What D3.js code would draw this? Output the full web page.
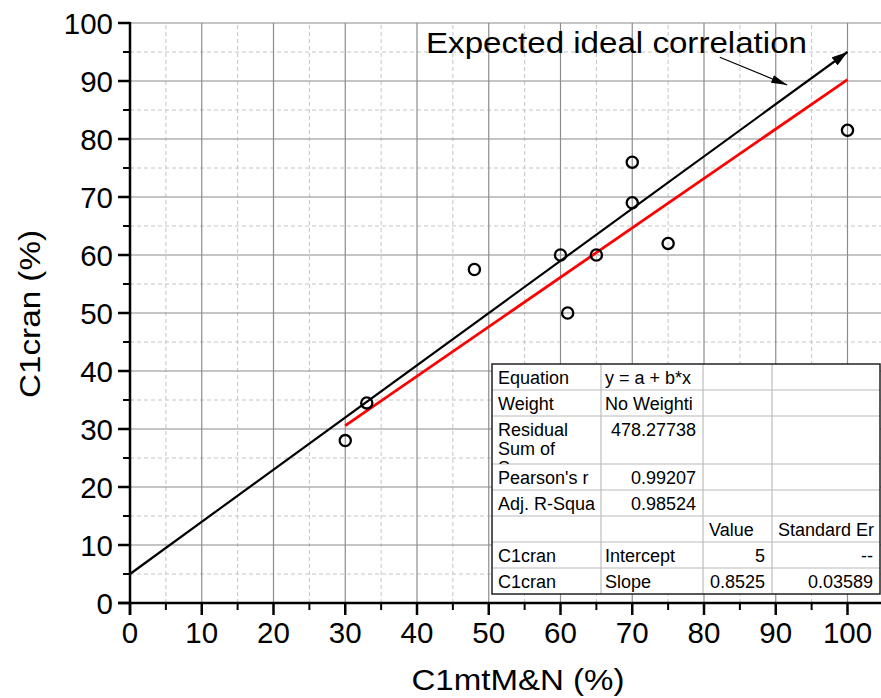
<!DOCTYPE html>
<html lang="en">
<head>
<meta charset="UTF-8">
<title>C1cran vs C1mtM&N</title>
<script src="https://d3js.org/d3.v7.min.js"></script>
<style>
  body { margin: 0; background: #fff; }
  text { font-family: "Liberation Sans", Arial, sans-serif; fill: #000; }
</style>
</head>
<body>
<svg id="chart" width="881" height="698"></svg>
<script>
    // measured points
    const xVals = [30, 33, 48, 60, 61, 65, 70, 70, 75, 100];
    const yVals = [28, 34.5, 57.5, 60, 50, 60, 76, 69, 62, 81.5];

    // linear fit (from the table) and the reference line
    const fitIntercept = 5, fitSlope = 0.8525;
    const fitRange = [30, 100];
    const idealLine = [[0, 5], [100, 95]];

    const majorTicks = [0, 10, 20, 30, 40, 50, 60, 70, 80, 90, 100];
    const minorTicks = [5, 15, 25, 35, 45, 55, 65, 75, 85, 95];

    const xTitle = "C1mtM&N (%)";
    const yTitle = "C1cran (%)";
    const noteText = "Expected ideal correlation";
    const notePointer = [[82.2, 94.1], [91.6, 89.3]];

    const tableRows = [
        ["Equation", "y = a + b*x", "", ""],
        ["Weight", "No Weighti", "", ""],
        ["Residual\nSum of\nSquares", "478.27738", "", ""],
        ["Pearson's r", "0.99207", "", ""],
        ["Adj. R-Squa", "0.98524", "", ""],
        ["", "", "Value", "Standard Er"],
        ["C1cran", "Intercept", "5", "--"],
        ["C1cran", "Slope", "0.8525", "0.03589"]
    ];

    const svg = d3.select("#chart"),
          width = +svg.attr("width"),
          height = +svg.attr("height");

    const x = d3.scaleLinear().domain([0, 100]).range([130, 847.5]);
    const y = d3.scaleLinear().domain([0, 100]).range([603, 23]);
    const xEnd = width;

    const defs = svg.append("defs");
    defs.append("marker")
        .attr("id", "bigArrow")
        .attr("viewBox", "0 0 16 10")
        .attr("refX", 16).attr("refY", 5)
        .attr("markerWidth", 16).attr("markerHeight", 10)
        .attr("markerUnits", "userSpaceOnUse")
        .attr("orient", "auto")
        .append("path").attr("d", "M0,0 L16,5 L0,10 Z").attr("fill", "#000");
    defs.append("marker")
        .attr("id", "smallArrow")
        .attr("viewBox", "0 0 16 8")
        .attr("refX", 16).attr("refY", 4)
        .attr("markerWidth", 16).attr("markerHeight", 8)
        .attr("markerUnits", "userSpaceOnUse")
        .attr("orient", "auto")
        .append("path").attr("d", "M0,0 L16,4 L0,8 Z").attr("fill", "#000");

    // grid
    const grid = svg.append("g");
    grid.selectAll(".vminor").data(minorTicks).join("line")
        .attr("x1", d => x(d)).attr("x2", d => x(d))
        .attr("y1", y(0)).attr("y2", y(100))
        .attr("stroke", "#c4c4c4").attr("stroke-dasharray", "4,3");
    grid.selectAll(".hminor").data(minorTicks).join("line")
        .attr("x1", x(0)).attr("x2", xEnd)
        .attr("y1", d => y(d)).attr("y2", d => y(d))
        .attr("stroke", "#c4c4c4").attr("stroke-dasharray", "4,3");
    grid.selectAll(".vmajor").data(majorTicks.slice(1)).join("line")
        .attr("x1", d => x(d)).attr("x2", d => x(d))
        .attr("y1", y(0)).attr("y2", y(100))
        .attr("stroke", "#8c8c8c").attr("stroke-width", 1.2);
    grid.selectAll(".hmajor").data(majorTicks.slice(1)).join("line")
        .attr("x1", x(0)).attr("x2", xEnd)
        .attr("y1", d => y(d)).attr("y2", d => y(d))
        .attr("stroke", "#8c8c8c").attr("stroke-width", 1.2);

    // lines
    svg.append("line")
        .attr("x1", x(idealLine[0][0])).attr("y1", y(idealLine[0][1]))
        .attr("x2", x(idealLine[1][0])).attr("y2", y(idealLine[1][1]))
        .attr("stroke", "#000").attr("stroke-width", 2.2)
        .attr("marker-end", "url(#bigArrow)");

    svg.append("line")
        .attr("x1", x(fitRange[0])).attr("y1", y(fitIntercept + fitSlope * fitRange[0]))
        .attr("x2", x(fitRange[1])).attr("y2", y(fitIntercept + fitSlope * fitRange[1]))
        .attr("stroke", "#ff0000").attr("stroke-width", 2.8);

    // points
    svg.append("g").selectAll("circle").data(xVals.map((v, i) => [v, yVals[i]])).join("circle")
        .attr("cx", d => x(d[0])).attr("cy", d => y(d[1]))
        .attr("r", 5.6)
        .attr("fill", "none").attr("stroke", "#000").attr("stroke-width", 2.3);

    // annotation
    svg.append("text")
        .attr("x", 426).attr("y", 53)
        .attr("font-size", 29)
        .attr("textLength", 381).attr("lengthAdjust", "spacingAndGlyphs")
        .text(noteText);
    svg.append("line")
        .attr("x1", x(notePointer[0][0])).attr("y1", y(notePointer[0][1]))
        .attr("x2", x(notePointer[1][0])).attr("y2", y(notePointer[1][1]))
        .attr("stroke", "#000").attr("stroke-width", 1.2)
        .attr("marker-end", "url(#smallArrow)");

    // stats table
    const colX = [492, 601, 703, 772, 880];
    const rowH = tableRows.map(r => r[0].includes("\n") ? 48 : 26);
    const tableTop = 364;
    const rowY = [tableTop];
    rowH.forEach(h => rowY.push(rowY[rowY.length - 1] + h));
    const isNum = s => /^[-\d.]+$/.test(s);

    const tbl = svg.append("g");
    tbl.append("rect")
        .attr("x", colX[0]).attr("y", tableTop)
        .attr("width", colX[4] - colX[0]).attr("height", rowY[rowY.length - 1] - tableTop)
        .attr("fill", "#fff");
    tbl.selectAll(".rowline").data(rowY.slice(1, -1)).join("line")
        .attr("x1", colX[0]).attr("x2", colX[4])
        .attr("y1", d => d).attr("y2", d => d)
        .attr("stroke", "#d0d0d0").attr("stroke-width", 1.5);
    tbl.selectAll(".colline").data(colX.slice(1, -1)).join("line")
        .attr("x1", d => d).attr("x2", d => d)
        .attr("y1", tableTop).attr("y2", rowY[rowY.length - 1])
        .attr("stroke", "#bdbdbd").attr("stroke-width", 1.2);
    tbl.append("rect")
        .attr("x", colX[0]).attr("y", tableTop)
        .attr("width", colX[4] - colX[0]).attr("height", rowY[rowY.length - 1] - tableTop)
        .attr("fill", "none").attr("stroke", "#222").attr("stroke-width", 1.5);

    tableRows.forEach((row, ri) => {
        const clipId = "rowclip" + ri;
        defs.append("clipPath").attr("id", clipId)
            .append("rect")
            .attr("x", colX[0]).attr("y", rowY[ri])
            .attr("width", colX[4] - colX[0]).attr("height", rowH[ri]);
        const rg = tbl.append("g").attr("clip-path", `url(#${clipId})`);
        row.forEach((cell, ci) => {
            if (!cell) return;
            const right = isNum(cell);
            const tx = right ? colX[ci + 1] - 7 : colX[ci] + (ci === 1 ? 4 : 6);
            const t = rg.append("text")
                .attr("font-size", 18)
                .attr("text-anchor", right ? "end" : "start")
                .attr("x", tx)
                .attr("y", rowY[ri] + 19.5);
            cell.split("\n").forEach((ln, li) => {
                t.append("tspan")
                    .attr("x", tx)
                    .attr("dy", li === 0 ? 0 : 19)
                    .text(ln);
            });
        });
    });

    // axes
    const xAxis = svg.append("g").attr("transform", `translate(0,${y(0)})`);
    xAxis.append("line").attr("x1", x(0) - 12).attr("x2", xEnd)
        .attr("stroke", "#000").attr("stroke-width", 2.5);
    xAxis.selectAll(".maj").data(majorTicks).join("line")
        .attr("x1", d => x(d)).attr("x2", d => x(d)).attr("y1", 0).attr("y2", 12)
        .attr("stroke", "#000").attr("stroke-width", 2.5);
    xAxis.selectAll(".min").data(minorTicks).join("line")
        .attr("x1", d => x(d)).attr("x2", d => x(d)).attr("y1", 0).attr("y2", 7)
        .attr("stroke", "#000").attr("stroke-width", 2);
    xAxis.selectAll("text").data(majorTicks).join("text")
        .attr("x", d => x(d)).attr("y", 40)
        .attr("text-anchor", "middle").attr("font-size", 29.5)
        .text(d => d);

    const yAxis = svg.append("g").attr("transform", `translate(${x(0)},0)`);
    yAxis.append("line").attr("y1", y(0) + 12).attr("y2", y(100) - 1)
        .attr("stroke", "#000").attr("stroke-width", 2.5);
    yAxis.selectAll(".maj").data(majorTicks).join("line")
        .attr("y1", d => y(d)).attr("y2", d => y(d)).attr("x1", 0).attr("x2", -12)
        .attr("stroke", "#000").attr("stroke-width", 2.5);
    yAxis.selectAll(".min").data(minorTicks).join("line")
        .attr("y1", d => y(d)).attr("y2", d => y(d)).attr("x1", 0).attr("x2", -7)
        .attr("stroke", "#000").attr("stroke-width", 2);
    yAxis.selectAll("text").data(majorTicks).join("text")
        .attr("x", -17).attr("y", d => y(d) + 10.5)
        .attr("text-anchor", "end").attr("font-size", 29.5)
        .text(d => d);

    // titles
    svg.append("text")
        .attr("x", 518).attr("y", 690)
        .attr("text-anchor", "middle").attr("font-size", 29)
        .attr("textLength", 213).attr("lengthAdjust", "spacingAndGlyphs")
        .text(xTitle);
    svg.append("text")
        .attr("transform", "translate(40,314) rotate(-90)")
        .attr("text-anchor", "middle").attr("font-size", 30)
        .attr("textLength", 168).attr("lengthAdjust", "spacingAndGlyphs")
        .text(yTitle);
</script>
</body>
</html>
